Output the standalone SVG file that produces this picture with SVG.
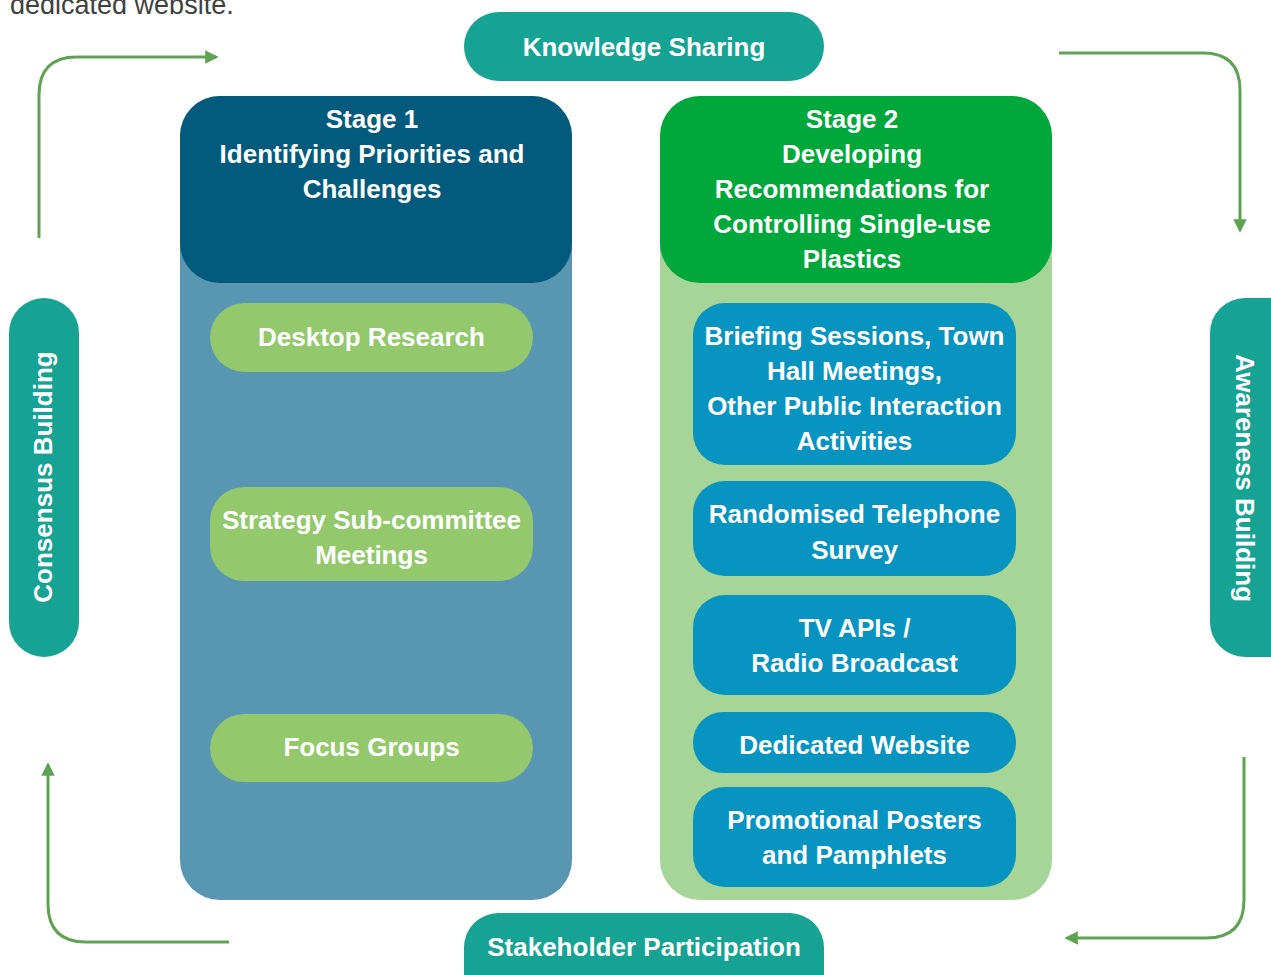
<svg xmlns="http://www.w3.org/2000/svg" width="1271" height="975" viewBox="0 0 1271 975">
<defs>
<style>
.t{font-family:"Liberation Sans","Arial",sans-serif;font-weight:bold;font-size:26px;fill:#ffffff;text-anchor:middle}
.c{fill:none;stroke:#5fa352;stroke-width:3}
</style>
<marker id="ah" viewBox="0 0 10 10" refX="8" refY="5" markerWidth="4.5" markerHeight="4.5" markerUnits="strokeWidth" orient="auto">
<path d="M0,0 L10,5 L0,10 Z" fill="#5fa352"/>
</marker>
</defs>
<rect width="1271" height="975" fill="#ffffff"/>
<text x="10" y="14" style="font-family:'Liberation Sans',Arial,sans-serif;font-size:27px;fill:#404040">dedicated website.</text>

<g id="connectors">
<path class="c" d="M39,238 V95 Q39,57 77,57 H216" marker-end="url(#ah)"/>
<path class="c" d="M1059,53 H1203 Q1240,53 1240,90 V230" marker-end="url(#ah)"/>
<path class="c" d="M1244,757 V900 Q1244,938 1206,938 H1067" marker-end="url(#ah)"/>
<path class="c" d="M229,942 H86 Q48,942 48,904 V765" marker-end="url(#ah)"/>
</g>

<g id="knowledge-sharing">
<rect x="464" y="12" width="360" height="69" rx="34.5" fill="#16a394"/>
<text class="t" x="644" y="56">Knowledge Sharing</text>
</g>
<g id="stakeholder-participation">
<rect x="464" y="913" width="360" height="100" rx="34.5" fill="#16a394"/>
<text class="t" x="644" y="956">Stakeholder Participation</text>
</g>
<g id="consensus-building">
<rect x="9" y="298" width="70" height="359" rx="35" fill="#16a394"/>
<text class="t" transform="translate(52,477) rotate(-90)" x="0" y="0">Consensus Building</text>
</g>
<g id="awareness-building">
<rect x="1210" y="298" width="100" height="359" rx="35" fill="#16a394"/>
<text class="t" transform="translate(1236,478) rotate(90)" x="0" y="0">Awareness Building</text>
</g>

<g id="stage1">
<rect x="180" y="96" width="392" height="804" rx="40" fill="#5996b2"/>
<rect x="180" y="96" width="392" height="187" rx="40" fill="#025b7c"/>
<text class="t" x="372" y="128">Stage 1</text>
<text class="t" x="372" y="163">Identifying Priorities and</text>
<text class="t" x="372" y="198">Challenges</text>
</g>
<g id="desktop-research">
<rect x="210" y="303" width="323" height="69" rx="34.5" fill="#93c86c"/>
<text class="t" x="371.5" y="346">Desktop Research</text>
</g>
<g id="strategy-subcommittee">
<rect x="210" y="487" width="323" height="94" rx="34" fill="#93c86c"/>
<text class="t" x="371.5" y="529">Strategy Sub-committee</text>
<text class="t" x="371.5" y="564">Meetings</text>
</g>
<g id="focus-groups">
<rect x="210" y="714" width="323" height="68" rx="34" fill="#93c86c"/>
<text class="t" x="371.5" y="756">Focus Groups</text>
</g>

<g id="stage2">
<rect x="660" y="96" width="392" height="804" rx="40" fill="#a7d497"/>
<rect x="660" y="96" width="392" height="187" rx="40" fill="#00a83b"/>
<text class="t" x="852" y="128">Stage 2</text>
<text class="t" x="852" y="163">Developing</text>
<text class="t" x="852" y="198">Recommendations for</text>
<text class="t" x="852" y="233">Controlling Single-use</text>
<text class="t" x="852" y="268">Plastics</text>
</g>
<g id="briefing-sessions">
<rect x="693" y="303" width="323" height="162" rx="32" fill="#0794c1"/>
<text class="t" x="854.5" y="345">Briefing Sessions, Town</text>
<text class="t" x="854.5" y="380">Hall Meetings,</text>
<text class="t" x="854.5" y="415">Other Public Interaction</text>
<text class="t" x="854.5" y="450">Activities</text>
</g>
<g id="telephone-survey">
<rect x="693" y="481" width="323" height="95" rx="32" fill="#0794c1"/>
<text class="t" x="854.5" y="523">Randomised Telephone</text>
<text class="t" x="854.5" y="559">Survey</text>
</g>
<g id="tv-radio">
<rect x="693" y="595" width="323" height="100" rx="32" fill="#0794c1"/>
<text class="t" x="854.5" y="637">TV APIs /</text>
<text class="t" x="854.5" y="672">Radio Broadcast</text>
</g>
<g id="dedicated-website">
<rect x="693" y="712" width="323" height="61" rx="30" fill="#0794c1"/>
<text class="t" x="854.5" y="754">Dedicated Website</text>
</g>
<g id="posters-pamphlets">
<rect x="693" y="787" width="323" height="100" rx="32" fill="#0794c1"/>
<text class="t" x="854.5" y="829">Promotional Posters</text>
<text class="t" x="854.5" y="864">and Pamphlets</text>
</g>
</svg>
